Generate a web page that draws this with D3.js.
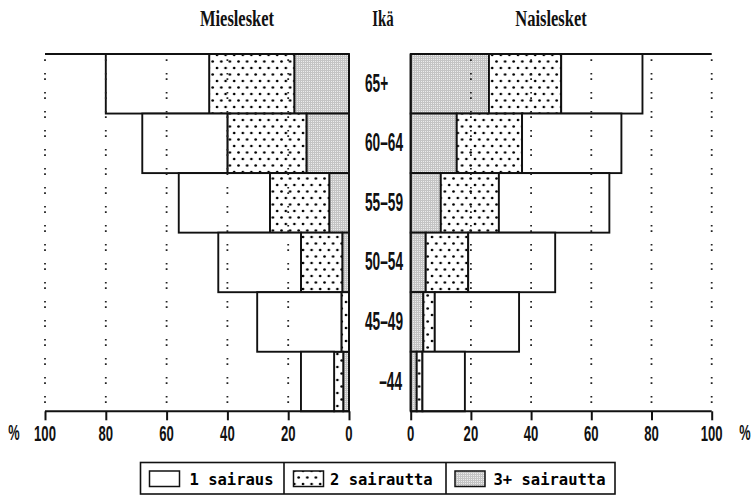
<!DOCTYPE html>
<html><head><meta charset="utf-8">
<script src="https://cdn.jsdelivr.net/npm/d3@7"></script>
<style>html,body{margin:0;padding:0;background:#fff;}svg{display:block;}</style>
</head><body>
<svg id="chart" width="755" height="495"></svg>
<script>
// ---- data (percent per category, stacked from the centre outward: 3+, 2, 1) ----
const ages = ["65+", "60–64", "55–59", "50–54", "45–49", "–44"];
const categories = ["3+ sairautta", "2 sairautta", "1 sairaus"];
const legendLabels = ["1 sairaus", "2 sairautta", "3+ sairautta"];
const menThreePlus = [18, 14, 6.5, 2.2, 0, 1.9];
const menTwo       = [28, 26, 19.5, 13.6, 2.5, 3.0];
const menOne       = [34, 28, 30, 27.2, 27.7, 10.9];
const womenThreePlus = [26, 15.3, 10, 5, 4.2, 2];
const womenTwo       = [24, 21.7, 19.3, 14.1, 3.8, 1.9];
const womenOne       = [27, 33, 36.7, 28.9, 28, 14.1];
const ticks = [0, 20, 40, 60, 80, 100];
const titles = { left: "Mieslesket", mid: "Ikä", right: "Naislesket" };

const svg = d3.select("#chart");
const defs = svg.append("defs");

// dotted pattern
const pd = defs.append("pattern").attr("id", "dots").attr("patternUnits", "userSpaceOnUse")
  .attr("width", 8.6).attr("height", 13);
pd.append("rect").attr("width", 8.6).attr("height", 13).attr("fill", "#fff");
pd.append("circle").attr("cx", 2).attr("cy", 3).attr("r", 1.35).attr("fill", "#000");
pd.append("circle").attr("cx", 6.3).attr("cy", 9.5).attr("r", 1.35).attr("fill", "#000");
// grey mesh pattern
const pg = defs.append("pattern").attr("id", "mesh").attr("patternUnits", "userSpaceOnUse")
  .attr("width", 2).attr("height", 2);
pg.append("rect").attr("width", 2).attr("height", 2).attr("fill", "#ececec");
pg.append("rect").attr("width", 2).attr("height", 1).attr("fill", "#c4c4c4");
pg.append("rect").attr("width", 1).attr("height", 2).attr("fill", "#c4c4c4");

const fills = { "3+ sairautta": "url(#mesh)", "2 sairautta": "url(#dots)", "1 sairaus": "#fff" };

const yTop = 54, yBottom = 411.3;
const xL = d3.scaleLinear().domain([0, 100]).range([349, 45]);
const xR = d3.scaleLinear().domain([0, 100]).range([410.7, 711.7]);
const y = d3.scaleBand().domain(ages).range([yTop, yBottom]).padding(0);

function stackRows(three, two, one) {
  const rows = ages.map((a, i) => ({ age: a, "3+ sairautta": three[i], "2 sairautta": two[i], "1 sairaus": one[i] }));
  return d3.stack().keys(categories)(rows);
}
const menStack = stackRows(menThreePlus, menTwo, menOne);
const womenStack = stackRows(womenThreePlus, womenTwo, womenOne);

function drawBars(stack, x) {
  const g = svg.append("g");
  stack.forEach(layer => {
    g.selectAll(null).data(layer.filter(d => d[1] - d[0] > 0)).join("rect")
      .attr("x", d => Math.min(x(d[0]), x(d[1])))
      .attr("width", d => Math.abs(x(d[1]) - x(d[0])))
      .attr("y", d => y(d.data.age))
      .attr("height", y.bandwidth())
      .attr("fill", fills[layer.key])
      .attr("stroke", "#111").attr("stroke-width", 1.9);
  });
}
drawBars(menStack, xL);
drawBars(womenStack, xR);

// dotted grid lines (on top)
function drawGrid(x) {
  svg.append("g").selectAll("line").data(ticks.filter(t => t > 0)).join("line")
    .attr("x1", d => x(d)).attr("x2", d => x(d))
    .attr("y1", yTop + 2).attr("y2", yBottom - 2)
    .attr("stroke", "#222").attr("stroke-width", 1.8)
    .attr("stroke-dasharray", "1.6,3.7,1.6,12.1")
    .attr("stroke-dashoffset", 2);
}
drawGrid(xL);
drawGrid(xR);

function scaledText(str, x, yb, anchor, family, size, weight, sx, sy) {
  return svg.append("text").attr("transform", `translate(${x},${yb}) scale(${sx},${sy})`)
    .attr("text-anchor", anchor).attr("font-family", family).attr("font-size", size)
    .attr("font-weight", weight).attr("fill", "#111").text(str);
}

// frame lines: top line, zero line, bottom axis
function drawFrame(x) {
  const g = svg.append("g").attr("stroke", "#111").attr("stroke-width", 2).attr("fill", "none");
  g.append("line").attr("x1", x(0)).attr("x2", x(100)).attr("y1", yTop).attr("y2", yTop);
  g.append("line").attr("x1", x(0)).attr("x2", x(0)).attr("y1", yTop).attr("y2", yBottom);
  const axis = d3.axisBottom(x).tickValues(ticks).tickSize(9).tickFormat("");
  const ag = svg.append("g").attr("transform", `translate(0,${yBottom})`).call(axis);
  ag.select(".domain").attr("stroke", "#111").attr("stroke-width", 2).attr("d", `M${x(0)},0H${x(100)}`);
  ag.selectAll(".tick line").attr("stroke", "#111").attr("stroke-width", 2);
  ticks.forEach(t => {
    scaledText(String(t), x(t), 441, "middle", "Liberation Sans", 16, 700, 0.82, 1.43);
  });
}
drawFrame(xL);
drawFrame(xR);

// percent signs
scaledText("%", 14, 440, "middle", "Liberation Sans", 16, 700, 0.8, 1.4);
scaledText("%", 745, 440, "middle", "Liberation Sans", 16, 700, 0.8, 1.4);

// titles
scaledText(titles.left, 237, 25.5, "middle", "Liberation Serif", 16.5, 700, 1, 1.42);
scaledText(titles.mid, 383, 25.5, "middle", "Liberation Serif", 16.5, 700, 0.9, 1.42);
scaledText(titles.right, 551, 25.5, "middle", "Liberation Serif", 16.5, 700, 1, 1.42);

// age labels
ages.forEach(a => {
  const yc = y(a) + y.bandwidth() / 2 + 8;
  if (a.startsWith("–")) scaledText(a, 402, yc, "end", "Liberation Sans", 18, 700, 0.76, 1.47);
  else scaledText(a, 365, yc, "start", "Liberation Sans", 18, 700, 0.76, 1.47);
});

// legend
const lg = svg.append("g");
lg.append("rect").attr("x", 140.5).attr("y", 462.5).attr("width", 474.5).attr("height", 31.5)
  .attr("fill", "#fff").attr("stroke", "#111").attr("stroke-width", 1.6);
const cells = [
  { key: "1 sairaus", x0: 140.5, sw: 149.5, tx: 189.5 },
  { key: "2 sairautta", x0: 284, sw: 293.5, tx: 330 },
  { key: "3+ sairautta", x0: 446, sw: 455, tx: 493.5 }
];
cells.forEach((c, i) => {
  if (i > 0) lg.append("line").attr("x1", c.x0).attr("x2", c.x0).attr("y1", 462.5).attr("y2", 494)
    .attr("stroke", "#111").attr("stroke-width", 1.6);
  lg.append("rect").attr("x", c.sw).attr("y", 471).attr("width", 30).attr("height", 15.5)
    .attr("fill", fills[c.key]).attr("stroke", "#111").attr("stroke-width", 1.5);
  lg.append("text").attr("x", c.tx).attr("y", 484.5).attr("font-family", "DejaVu Sans Mono")
    .attr("font-size", 15.5).attr("font-weight", 600).attr("fill", "#000").text(legendLabels[i]);
});
</script>
</body></html>
